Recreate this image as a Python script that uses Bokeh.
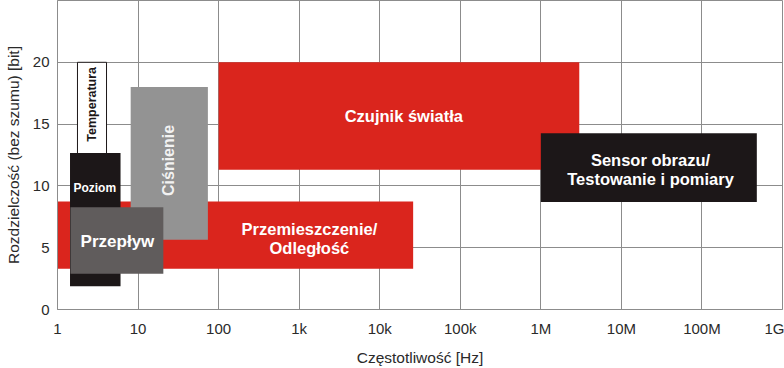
from bokeh.plotting import figure
from bokeh.models import ColumnDataSource, FixedTicker, Range1d
from bokeh.core.properties import value
from bokeh.embed import file_html
from bokeh.resources import INLINE

# ---- data ----
names = ["Przemieszczenie", "Czujnik światła", "Sensor obrazu", "Temperatura",
         "Poziom", "Ciśnienie", "Przepływ"]
f_low = [1.0, 100.0, 1.0e6, 1.77, 1.43, 8.1, 1.45]
f_high = [2.6e4, 3.0e6, 4.8e8, 4.06, 6.06, 73.6, 20.6]
bit_low = [3.3, 11.3, 8.7, 12.0, 1.88, 5.65, 2.9]
bit_high = [8.73, 20.0, 14.25, 20.0, 12.66, 18.0, 8.28]
fills = ["#da251d", "#da251d", "#1c1718", "#ffffff", "#1c1718", "#939393", "#605c5c"]
outlines = [None, None, None, "#1c1718", None, None, None]

label_text = ["Przemieszczenie/\nOdległość", "Czujnik światła",
              "Sensor obrazu/\nTestowanie i pomiary", "Temperatura",
              "Poziom", "Ciśnienie", "Przepływ"]
label_f = [1340.0, 1.99e4, 2.3e7, 2.68, 2.9, 24.0, 5.55]
label_bit = [5.75, 15.67, 11.33, 16.6, 9.85, 12.06, 5.5]
label_angle = [0, 0, 0, 1.5708, 0, 1.5708, 0]
label_color = ["white", "white", "white", "#1c1718", "white", "#f2f2f2", "white"]
label_size = ["16.5px", "16.5px", "16.5px", "12.5px", "12px", "16px", "17px"]

x_ticks = [1, 10, 100, 1e3, 1e4, 1e5, 1e6, 1e7, 1e8, 1e9]
x_tick_labels = ["1", "10", "100", "1k", "10k", "100k", "1M", "10M", "100M", "1G"]
y_ticks = [0, 5, 10, 15, 20]

FONT = "Liberation Sans"
GRID = "#8c8c8c"

p = figure(width=784, height=368, x_axis_type="log",
           x_range=Range1d(1, 1e9), y_range=Range1d(0, 25),
           output_backend="svg", toolbar_location=None,
           min_border_left=57, min_border_right=2, min_border_top=0,
           min_border_bottom=58)

p.background_fill_color = "white"
p.border_fill_color = "white"
p.outline_line_color = GRID

rects = ColumnDataSource(dict(left=f_low, right=f_high, bottom=bit_low, top=bit_high,
                              fill=fills, line=outlines))
p.quad(left="left", right="right", bottom="bottom", top="top", source=rects,
       fill_color="fill", line_color="line", line_width=1)

labels = ColumnDataSource(dict(x=label_f, y=label_bit, text=label_text,
                               angle=label_angle, color=label_color, size=label_size))
p.text(x="x", y="y", text="text", angle="angle", source=labels,
       text_color="color", text_font_size="size", text_font=value(FONT),
       text_font_style="bold", text_align="center", text_baseline="middle",
       text_line_height=1.05)

# axes
p.xaxis.ticker = FixedTicker(ticks=x_ticks)
p.xaxis.major_label_overrides = {float(t): l for t, l in zip(x_ticks, x_tick_labels)}
p.yaxis.ticker = FixedTicker(ticks=y_ticks)
p.xaxis.minor_tick_line_color = None
p.yaxis.minor_tick_line_color = None
for ax in (p.xaxis, p.yaxis):
    ax.major_tick_line_color = None
    ax.major_tick_in = 0
    ax.major_tick_out = 0
    ax.axis_line_color = GRID
    ax.major_label_text_font = FONT
    ax.major_label_text_font_size = "15px"
    ax.major_label_text_color = "#2a2a2a"
    ax.axis_label_text_font = FONT
    ax.axis_label_text_font_size = "15.5px"
    ax.axis_label_text_font_style = "normal"
    ax.axis_label_text_color = "#2a2a2a"

p.xaxis.axis_label = "Częstotliwość [Hz]"
p.yaxis.axis_label = "Rozdzielczość (bez szumu) [bit]"
p.xaxis.major_label_standoff = 10
p.xaxis.axis_label_standoff = 9
p.yaxis.major_label_standoff = 8
p.yaxis.axis_label_standoff = 8

p.xgrid.ticker = FixedTicker(ticks=x_ticks)
p.ygrid.ticker = FixedTicker(ticks=y_ticks)
p.grid.grid_line_color = GRID
p.grid.grid_line_width = 1
p.grid.level = "underlay"

open("out.html", "w").write(file_html(p, INLINE))
